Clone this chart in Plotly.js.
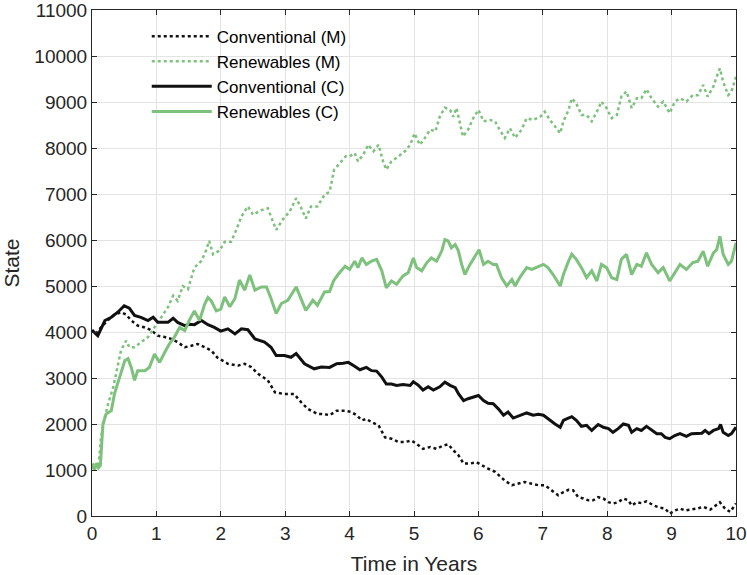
<!DOCTYPE html>
<html>
<head>
<meta charset="utf-8">
<script src="https://cdn.plot.ly/plotly-3.0.1.min.js"></script>
<style>html,body{margin:0;padding:0;background:#fff;}#chart{width:747px;height:575px;}</style>
</head>
<body>
<div id="chart"></div>
<script>
// Conventional (M)
const tConvM = [0,0.05,0.14,0.25,0.35,0.45,0.53,0.61,0.71,0.82,0.92,1.02,1.13,1.23,1.33,1.44,1.54,1.64,1.75,1.85,1.95,2.11,2.27,2.37,2.47,2.58,2.73,2.84,2.99,3.14,3.25,3.35,3.5,3.6,3.69,3.8,3.93,4.03,4.11,4.19,4.26,4.34,4.45,4.55,4.65,4.76,4.86,4.96,5.04,5.14,5.25,5.35,5.45,5.53,5.61,5.69,5.77,5.87,5.97,6.05,6.15,6.26,6.33,6.41,6.52,6.62,6.72,6.83,6.93,7.03,7.14,7.24,7.32,7.4,7.47,7.55,7.63,7.71,7.78,7.86,7.94,8.02,8.09,8.17,8.25,8.33,8.38,8.46,8.53,8.61,8.72,8.82,8.9,8.97,9.05,9.13,9.21,9.31,9.39,9.49,9.6,9.67,9.75,9.83,9.91,10.0];
const convM = [4040,3950,4100,4260,4380,4430,4380,4250,4140,4100,4040,3920,3890,3850,3780,3670,3700,3740,3670,3600,3440,3310,3270,3310,3240,3090,2950,2690,2650,2650,2470,2330,2220,2220,2190,2290,2290,2260,2190,2080,2110,2040,1970,1710,1680,1610,1610,1640,1570,1460,1500,1460,1530,1560,1430,1320,1140,1140,1170,1100,1030,960,880,770,670,700,740,700,670,670,560,450,520,570,560,410,380,340,340,410,380,300,270,300,380,340,230,300,280,320,230,180,160,50,120,160,120,140,160,200,140,210,300,160,90,270];

// Renewables (M)
const tRenM = [0,0.05,0.1,0.14,0.2,0.25,0.33,0.4,0.45,0.53,0.58,0.66,0.76,0.87,0.97,1.07,1.18,1.26,1.33,1.41,1.49,1.59,1.7,1.77,1.82,1.88,1.98,2.06,2.16,2.24,2.32,2.42,2.5,2.63,2.73,2.86,2.96,3.07,3.17,3.25,3.32,3.4,3.5,3.61,3.69,3.76,3.84,3.94,4.0,4.08,4.13,4.21,4.29,4.37,4.45,4.52,4.57,4.65,4.76,4.86,4.94,5.01,5.09,5.17,5.25,5.33,5.4,5.48,5.56,5.61,5.66,5.71,5.76,5.84,5.92,6.0,6.08,6.18,6.26,6.33,6.41,6.49,6.57,6.67,6.75,6.85,6.96,7.03,7.11,7.19,7.27,7.32,7.4,7.45,7.52,7.6,7.68,7.76,7.84,7.91,7.99,8.07,8.15,8.22,8.3,8.38,8.46,8.53,8.61,8.69,8.79,8.87,8.97,9.05,9.13,9.23,9.33,9.41,9.49,9.56,9.65,9.7,9.75,9.8,9.88,9.93,10.0];
const renM = [1100,1150,1050,1710,2150,2440,2800,3230,3600,3810,3670,3670,3780,3890,4100,4320,4540,4790,4680,5000,4930,5400,5550,5770,5980,5690,5770,5960,5960,6220,6510,6730,6550,6650,6690,6220,6440,6620,6910,6690,6470,6730,6730,6980,7050,7530,7670,7820,7820,7890,7710,7850,8070,7930,8070,7710,7530,7710,7820,7930,8070,8320,8070,8220,8400,8360,8680,8880,8830,8680,8870,8540,8250,8400,8650,8830,8580,8610,8580,8400,8220,8430,8220,8400,8650,8610,8680,8790,8610,8470,8320,8580,8830,9080,8970,8720,8720,8580,8790,9010,8870,8650,8720,9120,9230,8870,9080,9080,9280,9080,8900,9010,8760,9010,9080,9010,9150,9150,9370,9120,9340,9550,9730,9440,9150,9230,9550];

// Conventional (C)
const tConvC = [0,0.09,0.2,0.3,0.4,0.5,0.58,0.66,0.76,0.87,0.95,1.02,1.18,1.26,1.33,1.44,1.51,1.59,1.7,1.8,1.9,2.0,2.11,2.22,2.32,2.42,2.53,2.68,2.78,2.86,2.99,3.09,3.17,3.3,3.45,3.56,3.69,3.8,3.9,3.98,4.06,4.16,4.26,4.34,4.42,4.5,4.57,4.65,4.73,4.83,4.94,4.99,5.07,5.14,5.22,5.3,5.4,5.48,5.56,5.64,5.69,5.77,5.84,5.92,6.0,6.08,6.15,6.23,6.31,6.39,6.46,6.54,6.64,6.75,6.85,6.93,7.01,7.11,7.19,7.27,7.32,7.37,7.45,7.52,7.6,7.68,7.76,7.86,7.94,8.02,8.09,8.17,8.25,8.33,8.38,8.46,8.53,8.61,8.69,8.77,8.84,8.9,8.97,9.05,9.13,9.23,9.31,9.39,9.47,9.52,9.58,9.65,9.73,9.76,9.8,9.88,9.93,10.0];
const convC = [4040,3920,4250,4320,4430,4570,4520,4360,4320,4250,4320,4210,4210,4300,4210,4140,4170,4160,4250,4160,4100,4020,4070,3960,4070,4050,3850,3780,3670,3490,3490,3450,3530,3310,3200,3240,3230,3310,3320,3340,3270,3180,3230,3160,3150,3020,2870,2870,2840,2860,2840,2920,2840,2740,2810,2740,2810,2910,2840,2790,2660,2510,2550,2580,2620,2510,2450,2440,2330,2190,2260,2130,2190,2240,2190,2210,2190,2080,2000,1930,2080,2110,2160,2080,1950,1970,1860,1990,1930,1900,1820,1900,2000,1970,1820,1900,1860,1950,1860,1790,1790,1710,1680,1750,1790,1730,1790,1790,1800,1860,1790,1860,1900,1990,1820,1750,1790,1930];

// Renewables (C)
const tRenC = [0,0.04,0.07,0.1,0.13,0.17,0.22,0.3,0.35,0.43,0.51,0.56,0.61,0.66,0.71,0.82,0.89,0.97,1.05,1.13,1.2,1.28,1.36,1.44,1.51,1.59,1.67,1.75,1.8,1.85,1.93,2.0,2.06,2.14,2.22,2.29,2.37,2.45,2.53,2.63,2.71,2.78,2.86,2.94,3.04,3.17,3.25,3.32,3.43,3.5,3.61,3.69,3.75,3.82,3.93,4.0,4.08,4.13,4.19,4.26,4.34,4.42,4.5,4.57,4.65,4.73,4.83,4.91,4.99,5.04,5.12,5.2,5.27,5.35,5.43,5.48,5.53,5.58,5.64,5.69,5.74,5.79,5.87,5.95,6.01,6.08,6.15,6.23,6.28,6.36,6.44,6.52,6.57,6.64,6.75,6.83,6.9,7.01,7.08,7.16,7.27,7.32,7.4,7.45,7.52,7.6,7.68,7.76,7.84,7.91,7.99,8.07,8.15,8.22,8.3,8.38,8.46,8.53,8.61,8.69,8.79,8.87,8.97,9.05,9.13,9.23,9.33,9.41,9.49,9.56,9.65,9.7,9.75,9.8,9.88,9.93,10.0];
const renC = [1100,1000,1150,1050,1100,2000,2220,2290,2660,3020,3380,3420,3230,2950,3160,3160,3230,3520,3340,3560,3740,3890,4100,4030,4250,4460,4250,4610,4750,4680,4460,4500,4760,4550,4730,5130,4910,5240,4910,4980,4980,4730,4400,4620,4690,4980,4690,4470,4690,4580,4870,4880,5110,5250,5430,5360,5540,5400,5610,5470,5540,5580,5330,4960,5110,5040,5220,5290,5610,5400,5330,5510,5610,5540,5760,6010,5980,5830,5900,5760,5470,5250,5470,5650,5790,5470,5540,5470,5470,5180,5000,5140,5000,5180,5400,5360,5400,5470,5400,5250,5000,5250,5540,5690,5580,5400,5180,5330,5110,5470,5400,5180,5140,5580,5690,5250,5470,5430,5720,5470,5290,5400,5110,5290,5470,5360,5510,5540,5760,5430,5720,5790,6080,5690,5470,5540,5940];

const seriesNames = ['Conventional (M)','Renewables (M)','Conventional (C)','Renewables (C)'];
const xTickVals = [0,1,2,3,4,5,6,7,8,9,10];
const yTickVals = [0,1000,2000,3000,4000,5000,6000,7000,8000,9000,10000,11000];

const black = '#111111';
const green = '#7dc17d';
const FONT = 'Liberation Sans, Arial, sans-serif';
const traces = [
  {x:tConvM, y:convM, name:seriesNames[0], mode:'lines', line:{color:black, width:2.5, dash:'dot'}},
  {x:tRenM, y:renM, name:seriesNames[1], mode:'lines', line:{color:green, width:2.5, dash:'dot'}},
  {x:tConvC, y:convC, name:seriesNames[2], mode:'lines', line:{color:black, width:3}},
  {x:tRenC, y:renC, name:seriesNames[3], mode:'lines', line:{color:green, width:3}}
];
const axisCommon = {
  showline:true, linecolor:'#262626', linewidth:1, mirror:'ticks',
  ticks:'inside', ticklen:5, tickcolor:'#262626', tickwidth:1,
  showgrid:true, gridcolor:'#e3e3e3', gridwidth:1, zeroline:false,
  ticklabeloverflow:'allow',
  tickfont:{family:FONT, size:19, color:'#262626'}
};
const layout = {
  width:747, height:575,
  margin:{l:92, r:11, t:10, b:59},
  paper_bgcolor:'#fff', plot_bgcolor:'#fff',
  showlegend:true,
  legend:{x:0.085, y:0.983, xanchor:'left', yanchor:'top', bgcolor:'rgba(0,0,0,0)',
          itemwidth:60,
          font:{family:FONT, size:17, color:'#000'}},
  xaxis: Object.assign({}, axisCommon, {range:[0,10], tickvals:xTickVals,
          title:{text:'Time in Years', font:{family:FONT, size:21, color:'#262626'}, standoff:15}}),
  yaxis: Object.assign({}, axisCommon, {range:[0,11001], tickvals:yTickVals, tickformat:'d',
          title:{text:'State', font:{family:FONT, size:21, color:'#262626'}, standoff:14}})
};
Plotly.newPlot('chart', traces, layout, {staticPlot:true, displayModeBar:false});
</script>
</body>
</html>
